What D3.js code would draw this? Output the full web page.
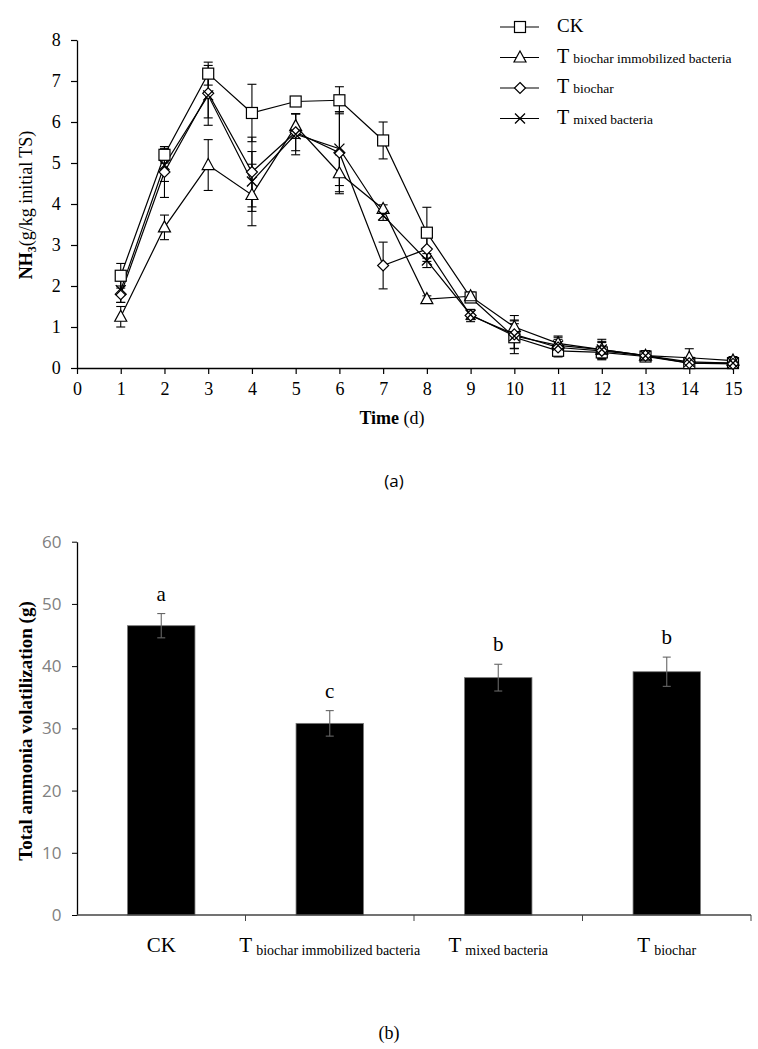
<!DOCTYPE html>
<html>
<head>
<meta charset="utf-8">
<script src="https://cdn.jsdelivr.net/npm/d3@7.9.0/dist/d3.min.js"></script>
<style>
  body { margin: 0; background: #fff; }
  svg { display: block; }
</style>
</head>
<body>
<svg id="chart" width="758" height="1049"></svg>
<script>
// ---- data (a): NH3 volatilization per day ----
const days = d3.range(1, 16);
const seriesNames = ['CK', 'T biochar immobilized bacteria', 'T biochar', 'T mixed bacteria'];
const ckMean = [2.25, 5.2, 7.18, 6.22, 6.5, 6.53, 5.55, 3.3, 1.72, 0.75, 0.42, 0.38, 0.28, 0.12, 0.12];
const ckErr  = [0.3, 0.2, 0.28, 0.7, 0.1, 0.33, 0.45, 0.62, 0.1, 0.4, 0.15, 0.15, 0.1, 0.08, 0.08];
const bibMean = [1.25, 3.43, 4.95, 4.22, 5.9, 4.75, 3.88, 1.68, 1.75, 1.0, 0.6, 0.45, 0.3, 0.25, 0.18];
const bibErr  = [0.25, 0.3, 0.62, 0.75, 0.3, 0.45, 0.1, 0.08, 0.1, 0.28, 0.18, 0.25, 0.12, 0.22, 0.1];
const bcMean = [1.8, 4.78, 6.7, 4.78, 5.75, 5.25, 2.5, 2.9, 1.28, 0.82, 0.5, 0.42, 0.3, 0.12, 0.1];
const bcErr  = [0.2, 0.62, 0.6, 0.85, 0.45, 1.0, 0.57, 0.3, 0.15, 0.35, 0.2, 0.2, 0.1, 0.1, 0.08];
const mbMean = [1.9, 4.95, 6.65, 4.55, 5.7, 5.35, 3.72, 2.62, 1.3, 0.78, 0.55, 0.45, 0.3, 0.15, 0.12];
const mbErr  = [0.3, 0.4, 0.73, 0.73, 0.5, 0.9, 0.12, 0.17, 0.12, 0.3, 0.2, 0.2, 0.12, 0.1, 0.1];
const xTicksA = d3.range(0, 16);
const yTicksA = d3.range(0, 9);

// ---- data (b): total ammonia volatilization ----
const barCats = ['CK', 'T biochar immobilized bacteria', 'T mixed bacteria', 'T biochar'];
const barMean = [46.5, 30.8, 38.15, 39.1];
const barErr  = [1.95, 2.05, 2.15, 2.35];
const barLetters = ['a', 'c', 'b', 'b'];
const yTicksB = [0, 10, 20, 30, 40, 50, 60];

const svg = d3.select('#chart');
const serif = '"Liberation Serif", "Times New Roman", serif';
const sans = '"Open Sans", "Noto Sans", sans-serif';

// ================= chart (a) =================
const x = d3.scaleLinear().domain([0, 15]).range([77, 733]);
const y = d3.scaleLinear().domain([0, 8]).range([368, 40]);

const gA = svg.append('g');

const xAxisA = gA.append('g')
  .attr('transform', `translate(0,${y(0)})`)
  .call(d3.axisBottom(x).tickValues(xTicksA).tickSize(6).tickSizeOuter(0));
const yAxisA = gA.append('g')
  .attr('transform', `translate(${x(0)},0)`)
  .call(d3.axisLeft(y).tickValues(yTicksA).tickSize(6).tickSizeOuter(0));

[xAxisA, yAxisA].forEach(ax => {
  ax.attr('font-family', serif).attr('font-size', 18);
  ax.select('.domain').attr('stroke', '#000').attr('stroke-width', 1.3);
  ax.selectAll('.tick line').attr('stroke', '#000').attr('stroke-width', 1.2);
  ax.selectAll('.tick text').style('font-family', serif).style('font-size', '18px').attr('fill', '#000');
});
xAxisA.selectAll('.tick text').attr('dy', '1.0em');
yAxisA.selectAll('.tick text').attr('dx', '-0.4em');

// axis titles
const tt = gA.append('text').style('font-family', serif).attr('font-size', 18)
  .attr('x', 392).attr('y', 424).attr('text-anchor', 'middle');
tt.append('tspan').attr('font-weight', 'bold').text('Time');
tt.append('tspan').text(' (d)');

const yt = gA.append('text').style('font-family', serif).attr('font-size', 18)
  .attr('transform', 'translate(32,205) rotate(-90)').attr('text-anchor', 'middle');
yt.append('tspan').attr('font-weight', 'bold').text('NH');
yt.append('tspan').attr('font-weight', 'bold').attr('font-size', 12).attr('dy', 4).text('3');
yt.append('tspan').attr('dy', -4).text('(g/kg initial TS)');

const allSeries = [
  { name: seriesNames[0], mean: ckMean, err: ckErr, sym: 'square' },
  { name: seriesNames[1], mean: bibMean, err: bibErr, sym: 'triangle' },
  { name: seriesNames[2], mean: bcMean, err: bcErr, sym: 'diamond' },
  { name: seriesNames[3], mean: mbMean, err: mbErr, sym: 'cross' }
];

function drawMarker(g, sym, cx, cy) {
  if (sym === 'square') {
    g.append('rect').attr('x', cx - 5.5).attr('y', cy - 5.5).attr('width', 11).attr('height', 11)
      .attr('fill', '#fff').attr('stroke', '#000').attr('stroke-width', 1.2);
  } else if (sym === 'triangle') {
    g.append('path').attr('d', `M${cx},${cy - 6.5}L${cx + 6},${cy + 4.5}L${cx - 6},${cy + 4.5}Z`)
      .attr('fill', '#fff').attr('stroke', '#000').attr('stroke-width', 1.2);
  } else if (sym === 'diamond') {
    g.append('path').attr('d', `M${cx},${cy - 5.5}L${cx + 5.5},${cy}L${cx},${cy + 5.5}L${cx - 5.5},${cy}Z`)
      .attr('fill', '#fff').attr('stroke', '#000').attr('stroke-width', 1.2);
  } else {
    g.append('path').attr('d', `M${cx - 5},${cy - 5}L${cx + 5},${cy + 5}M${cx + 5},${cy - 5}L${cx - 5},${cy + 5}`)
      .attr('fill', 'none').attr('stroke', '#000').attr('stroke-width', 1.3);
  }
}

const line = d3.line().x((d, i) => x(days[i])).y(d => y(d));

// error bars
allSeries.forEach(s => {
  const eg = gA.append('g').attr('stroke', '#000').attr('stroke-width', 1.1);
  s.mean.forEach((m, i) => {
    const cx = x(days[i]);
    const hi = y(m + s.err[i]), lo = y(Math.max(0, m - s.err[i]));
    eg.append('line').attr('x1', cx).attr('x2', cx).attr('y1', hi).attr('y2', lo);
    eg.append('line').attr('x1', cx - 4.5).attr('x2', cx + 4.5).attr('y1', hi).attr('y2', hi);
    eg.append('line').attr('x1', cx - 4.5).attr('x2', cx + 4.5).attr('y1', lo).attr('y2', lo);
  });
});

// lines
allSeries.forEach(s => {
  gA.append('path').datum(s.mean).attr('d', line)
    .attr('fill', 'none').attr('stroke', '#000').attr('stroke-width', 1.2);
});

// markers
allSeries.forEach(s => {
  const mg = gA.append('g');
  s.mean.forEach((m, i) => drawMarker(mg, s.sym, x(days[i]), y(m)));
});

// legend
const legend = gA.append('g');
allSeries.forEach((s, i) => {
  const ly = 27 + i * 30.5;
  legend.append('line').attr('x1', 500).attr('x2', 539).attr('y1', ly).attr('y2', ly)
    .attr('stroke', '#000').attr('stroke-width', 1.2);
  drawMarker(legend, s.sym, 520, ly);
  const t = legend.append('text').style('font-family', serif).attr('x', 557).attr('y', ly + 5);
  if (s.name === 'CK') {
    t.attr('font-size', 19).text('CK');
  } else {
    t.append('tspan').attr('font-size', 20).text('T');
    t.append('tspan').attr('font-size', 13.5).attr('dx', 4).text(s.name.slice(2));
  }
});

gA.append('text').style('font-family', sans).attr('font-size', 17)
  .attr('x', 394).attr('y', 487).attr('text-anchor', 'middle').text('(a)');

// ================= chart (b) =================
const xb = d3.scaleBand().domain(barCats).range([77, 751]).padding(0);
const yb = d3.scaleLinear().domain([0, 60]).range([915, 541.7]);
const gB = svg.append('g');

const yAxisB = gB.append('g')
  .attr('transform', `translate(${xb.range()[0]},0)`)
  .call(d3.axisLeft(yb).tickValues(yTicksB).tickSize(5).tickSizeOuter(0));
yAxisB.attr('font-family', sans).attr('font-size', 17);
yAxisB.select('.domain').attr('stroke', '#000').attr('stroke-width', 1.3);
yAxisB.selectAll('.tick line').attr('stroke', '#000');
yAxisB.selectAll('.tick text').style('font-family', sans).style('font-size', '17px')
  .attr('fill', '#808080').attr('dx', '-0.45em');

const bw = xb.bandwidth() * 0.4;

// bars
gB.selectAll('rect.bar').data(barMean).join('rect').attr('class', 'bar')
  .attr('x', (d, i) => xb(barCats[i]) + (xb.bandwidth() - bw) / 2)
  .attr('width', bw)
  .attr('y', d => yb(d))
  .attr('height', d => yb(0) - yb(d))
  .attr('fill', '#000').attr('stroke', '#777').attr('stroke-width', 0.8);

// x axis line with boundary ticks
gB.append('line').attr('x1', xb.range()[0]).attr('x2', xb.range()[1])
  .attr('y1', yb(0)).attr('y2', yb(0)).attr('stroke', '#444').attr('stroke-width', 1.3);
barCats.slice(1).map(c => xb(c)).concat([xb.range()[1]]).forEach(bx => {
  gB.append('line').attr('x1', bx).attr('x2', bx).attr('y1', yb(0)).attr('y2', yb(0) + 6)
    .attr('stroke', '#444').attr('stroke-width', 1);
});

// error bars + letters
barMean.forEach((m, i) => {
  const cx = xb(barCats[i]) + xb.bandwidth() / 2;
  const hi = yb(m + barErr[i]), lo = yb(m - barErr[i]);
  const eg = gB.append('g').attr('stroke', '#666').attr('stroke-width', 1.1);
  eg.append('line').attr('x1', cx).attr('x2', cx).attr('y1', hi).attr('y2', lo);
  eg.append('line').attr('x1', cx - 4).attr('x2', cx + 4).attr('y1', hi).attr('y2', hi);
  eg.append('line').attr('x1', cx - 4).attr('x2', cx + 4).attr('y1', lo).attr('y2', lo);
  gB.append('text').style('font-family', serif).attr('font-size', 21)
    .attr('x', cx).attr('y', hi - 13).attr('text-anchor', 'middle').text(barLetters[i]);
});

// category labels
barCats.forEach(c => {
  const cx = xb(c) + xb.bandwidth() / 2;
  const t = gB.append('text').style('font-family', serif).attr('x', cx).attr('y', 952)
    .attr('text-anchor', 'middle');
  if (c === 'CK') {
    t.attr('font-size', 21).text('CK');
  } else {
    t.append('tspan').attr('font-size', 21).text('T');
    t.append('tspan').attr('font-size', 14).attr('dx', 4).attr('dy', 3).text(c.slice(2));
  }
});

gB.append('text').style('font-family', serif).attr('font-size', 19).attr('font-weight', 'bold')
  .attr('transform', 'translate(32,731) rotate(-90)').attr('text-anchor', 'middle')
  .text('Total ammonia volatilization (g)');

gB.append('text').style('font-family', serif).attr('font-size', 18)
  .attr('x', 389).attr('y', 1039).attr('text-anchor', 'middle').text('(b)');
</script>
</body>
</html>
